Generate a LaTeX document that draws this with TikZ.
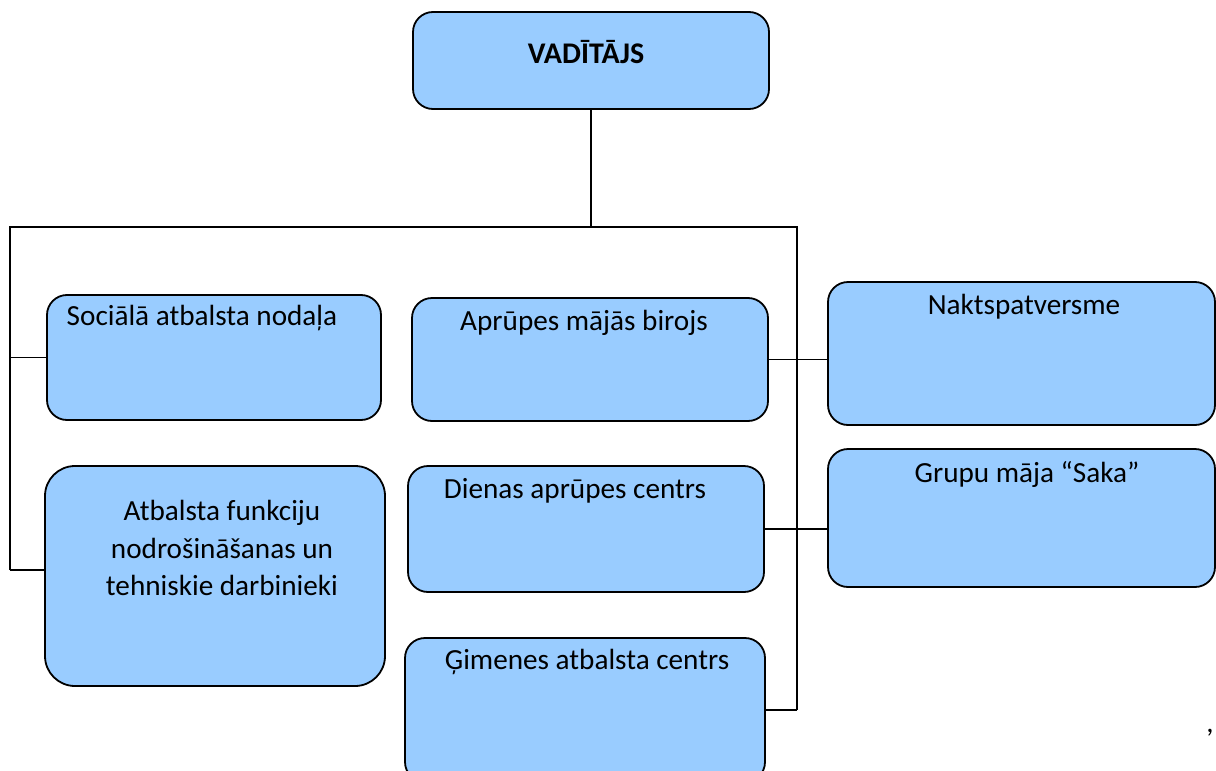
\documentclass[tikz,border=0pt]{standalone}
\usepackage{fontspec}
\setmainfont{Carlito}
\usetikzlibrary{calc,positioning}
\definecolor{boxblue}{RGB}{153,204,255}

\begin{document}
\begin{tikzpicture}[x=0.5pt,y=-0.5pt,
  unit/.style={draw=black,line width=0.9pt,fill=boxblue,rounded corners=10pt,inner sep=0pt},
  lbl/.style={font=\fontsize{14.6}{18}\selectfont,inner sep=0pt,align=center},
  wire/.style={line width=0.55pt}]
	\clip (0,0) rectangle (1216,771);
	\fill[white] (0,0) rectangle (1216,771);

	%kastes
	\node[unit,minimum width=178pt,minimum height=48.5pt] (vad) at (591,60.5) {};
	\node[unit,minimum width=167pt,minimum height=62.5pt] (soc) at (214,357.5) {};
	\node[unit,minimum width=170pt,minimum height=110pt,rounded corners=15pt] (atb) at (215,576) {};
	\node[unit,minimum width=178pt,minimum height=61.5pt] (apr) at (590,359.5) {};
	\node[unit,minimum width=178pt,minimum height=63pt] (dien) at (586,529) {};
	\node[unit,minimum width=180pt,minimum height=72pt] (gim) at (585,710) {};
	\node[unit,minimum width=193.5pt,minimum height=71.5pt] (nakt) at (1021.5,353.5) {};
	\node[unit,minimum width=193.5pt,minimum height=69pt] (grupu) at (1021.5,518) {};

	%teksti
	\node[lbl,font=\fontsize{15}{18}\selectfont\bfseries] (vad-t) at (586,52) {VADĪTĀJS};
	\node[lbl] (soc-t) at (202,318) {Sociālā atbalsta nodaļa};
	\node[lbl,font=\fontsize{14.6}{18.75}\selectfont] (atb-t) at (222,548) {Atbalsta funkciju\\nodrošināšanas un\\tehniskie darbinieki};
	\node[lbl] (apr-t) at (584,323) {Aprūpes mājās birojs};
	\node[lbl] (dien-t) at (575,491) {Dienas aprūpes centrs};
	\node[lbl] (gim-t) at (587,662) {Ģimenes atbalsta centrs};
	\node[lbl] (nakt-t) at (1024,307) {Naktspatversme};
	\node[lbl] (grupu-t) at (1027,474) {Grupu māja “Saka”};
	\node[lbl] (komats) at (1210,733) {,};

	%savienojumi
	\coordinate (tl) at (10,227);
	\coordinate (tr) at (797,227);
	\coordinate (bl) at (10,570);
	\coordinate (br) at (797,710);
	\draw[wire] (vad.south) -- (vad.south |- tl);
	\draw[wire] (bl) -- (tl) -- (tr) -- (br);
	\draw[wire] (soc.west) -- (soc.west -| tl);
	\draw[wire] (bl) -- (bl -| atb.west);
	\draw[wire] (apr.east) -- (nakt.west |- apr.east);
	\draw[wire] (dien.east) -- (grupu.west |- dien.east);
	\draw[wire] (br) -- (br -| gim.east);
\end{tikzpicture}
\end{document}
